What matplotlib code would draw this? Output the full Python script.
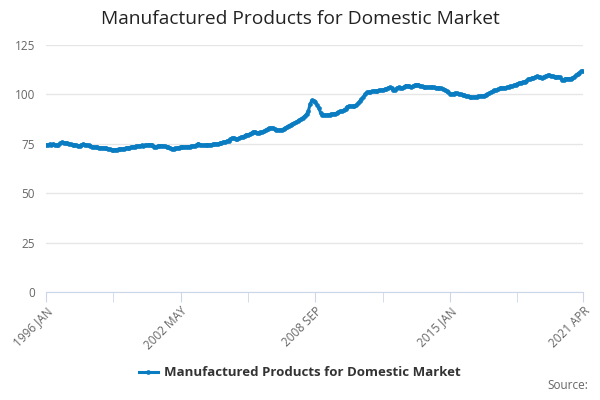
import numpy as np
import matplotlib
matplotlib.use("Agg")
import matplotlib.pyplot as plt

plt.rcParams['font.family'] = ['Open Sans', 'DejaVu Sans']

# monthly index values, 1996 JAN .. 2021 APR
values = [
    74.5, 74.4, 74.8, 74.6, 74.9, 74.5, 74.3, 74.6, 75.2, 75.8, 75.6, 75.4,   # 1996
    75.2, 75.0, 74.7, 74.5, 74.6, 74.3, 74.1, 74.0, 74.5, 74.8, 74.6, 74.4,   # 1997
    74.2, 73.9, 73.6, 73.4, 73.3, 73.2, 73.1, 73.0, 73.0, 72.8, 72.7, 72.5,   # 1998
    72.2, 71.9, 71.8, 72.0, 72.1, 72.3, 72.3, 72.4, 72.6, 72.8, 73.0, 73.1,   # 1999
    73.3, 73.5, 73.6, 73.8, 73.8, 74.0, 74.2, 74.0, 74.3, 74.4, 74.6, 74.5,   # 2000
    74.2, 73.6, 73.5, 73.8, 74.0, 74.0, 73.9, 73.7, 73.6, 73.3, 72.8, 72.5,   # 2001
    72.6, 72.7, 72.8, 73.1, 73.5, 73.6, 73.4, 73.5, 73.6, 73.5, 73.7, 73.9,   # 2002
    74.0, 74.6, 75.1, 74.6, 74.3, 74.2, 74.4, 74.5, 74.5, 74.6, 74.7, 74.8,   # 2003
    74.9, 75.0, 75.2, 75.5, 75.8, 76.0, 76.3, 76.6, 77.3, 77.9, 78.0, 77.6,   # 2004
    77.5, 77.8, 78.3, 78.6, 79.0, 79.6, 79.5, 80.0, 80.5, 81.0, 81.1, 80.6,   # 2005
    80.5, 80.8, 81.0, 81.4, 82.0, 82.5, 82.9, 83.0, 83.1, 82.6, 82.1, 81.9,   # 2006
    82.0, 82.1, 82.5, 83.0, 83.6, 84.2, 84.6, 85.0, 85.4, 85.9, 86.4, 87.0,   # 2007
    87.6, 88.3, 89.0, 90.0, 91.5, 95.0, 97.0, 96.8, 96.0, 94.6, 93.0, 90.5,   # 2008
    89.8, 89.6, 89.5, 89.6, 89.8, 90.0, 90.1, 90.3, 90.5, 91.0, 91.4, 91.6,   # 2009
    92.0, 92.7, 93.8, 94.1, 94.0, 94.0, 94.1, 94.5, 95.4, 96.5, 97.6, 98.6,   # 2010
    100.0, 101.0, 101.2, 101.4, 101.5, 101.7, 101.8, 101.9, 102.0, 102.2, 102.3, 102.5,  # 2011
    102.8, 103.3, 103.6, 103.0, 102.1, 102.3, 103.2, 103.6, 103.2, 103.0, 103.8, 104.5,  # 2012
    104.3, 104.0, 103.8, 104.2, 104.7, 104.9, 105.0, 104.5, 104.0, 103.8, 103.7, 103.6,  # 2013
    103.6, 103.7, 103.6, 103.5, 103.4, 103.3, 103.2, 103.0, 102.8, 102.4, 101.8, 101.0,  # 2014
    100.3, 100.2, 100.4, 100.6, 100.5, 100.3, 100.0, 99.7, 99.6, 99.3, 99.0, 98.7,   # 2015
    98.5, 98.6, 98.7, 98.9, 99.0, 99.1, 99.2, 99.4, 99.7, 100.0, 100.5, 101.0,   # 2016
    101.6, 102.0, 102.2, 102.5, 103.0, 103.2, 103.3, 103.4, 103.5, 103.7, 104.0, 104.2,  # 2017
    104.6, 105.0, 105.3, 105.7, 106.0, 106.2, 106.4, 106.8, 107.6, 108.0, 108.2, 108.4,  # 2018
    108.7, 109.2, 109.0, 108.6, 108.5, 109.0, 109.4, 109.6, 109.6, 109.4, 109.2, 108.9,  # 2019
    108.8, 109.0, 108.7, 107.3, 107.5, 107.9, 108.0, 108.0, 108.0, 108.3, 108.8, 109.6,  # 2020
    110.4, 111.0, 111.6, 112.0,                                                 # 2021
]

tick_labels = ['1996 JAN', '2002 MAY', '2008 SEP', '2015 JAN', '2021 APR']
y_ticks = [0, 25, 50, 75, 100, 125]
series_name = 'Manufactured Products for Domestic Market'

n = len(values)
x = np.arange(n)

fig = plt.figure(figsize=(6, 4), dpi=100)
ax = fig.add_axes([0.0767, 0.27, 0.895, 0.6175])

ax.plot(x, values, color='#0a7dc2', lw=2.2, marker='o', markersize=3.4,
        markeredgewidth=0, label=series_name, zorder=3)

ax.set_xlim(0, n - 1)
ax.set_ylim(0, 125)
ax.set_yticks(y_ticks)
ax.grid(axis='y', color='#e6e6e6', lw=1)
ax.set_axisbelow(True)

label_pos = [0, 76, 152, 228, n - 1]
ax.set_xticks(label_pos)
ax.set_xticklabels(tick_labels, rotation=45, ha='right', rotation_mode='anchor')
ax.set_xticks(list(range(38, n - 1, 76)), minor=True)

for s in ['top', 'right', 'left']:
    ax.spines[s].set_visible(False)
ax.spines['bottom'].set_color('#ccd6eb')
ax.tick_params(axis='x', which='both', length=7, color='#ccd6eb', labelsize=8.5,
               labelcolor='#666666', pad=2)
ax.tick_params(axis='y', length=0, labelsize=8.5, labelcolor='#666666', pad=8)

fig.suptitle('Manufactured Products for Domestic Market', y=0.975,
             fontsize=13.8, color='#222222')

fig.legend(loc='center', bbox_to_anchor=(0.5, 0.068), frameon=False,
           prop={'size': 9.5, 'weight': 'bold'}, labelcolor='#333333',
           handlelength=1.4, handletextpad=0.5)
fig.text(0.98, 0.02, 'Source:', ha='right', va='bottom', fontsize=8.5,
         color='#666666')

fig.savefig('out.png', dpi=100)
